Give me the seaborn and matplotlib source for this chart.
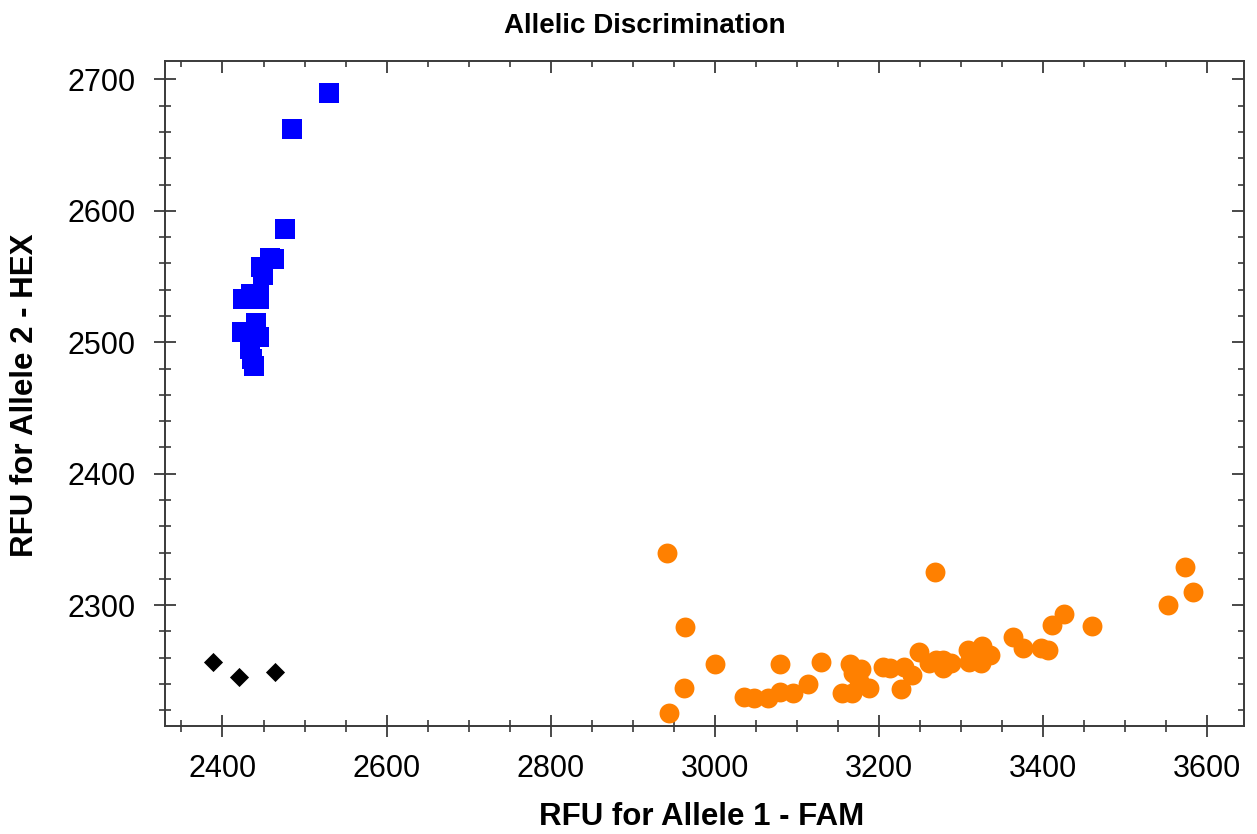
import matplotlib
matplotlib.use("Agg")
import matplotlib.pyplot as plt
from matplotlib.ticker import MultipleLocator
import seaborn as sns
import pandas as pd

# Allele 2 homozygotes (HEX)
hex_fam = [2530, 2485, 2476, 2458, 2463, 2447, 2449, 2444, 2425, 2444,
           2435, 2441, 2424, 2444, 2434, 2438, 2436]
hex_hex = [2690, 2662, 2586, 2564, 2563, 2557, 2551, 2537, 2533, 2533,
           2537, 2515, 2508, 2504, 2495, 2482, 2487]

# Allele 1 homozygotes (FAM)
fam_fam = [2942, 2964, 3000, 2962, 2944, 3035, 3048, 3065, 3080, 3080,
           3095, 3113, 3130, 3155, 3167, 3165, 3168, 3178, 3176, 3188,
           3205, 3213, 3227, 3231, 3240, 3249, 3261, 3270, 3268, 3278,
           3278, 3288, 3308, 3310, 3324, 3326, 3335, 3322, 3363, 3375,
           3397, 3406, 3411, 3425, 3460, 3552, 3573, 3583]
fam_hex = [2340, 2283, 2255, 2237, 2218, 2230, 2229, 2229, 2234, 2255,
           2233, 2240, 2257, 2233, 2233, 2255, 2248, 2251, 2242, 2237,
           2253, 2252, 2236, 2253, 2247, 2264, 2256, 2258, 2325, 2258,
           2252, 2256, 2266, 2257, 2256, 2269, 2262, 2262, 2276, 2267,
           2267, 2266, 2285, 2293, 2284, 2300, 2329, 2310]

# No template controls
ntc_fam = [2389, 2420, 2464]
ntc_hex = [2257, 2245, 2249]

sns.set_theme(style="white")
plt.rcParams["font.family"] = ["Liberation Sans", "DejaVu Sans"]
plt.rcParams["text.color"] = "black"
plt.rcParams["xtick.labelcolor"] = "black"
plt.rcParams["ytick.labelcolor"] = "black"

fig = plt.figure(figsize=(12.57, 8.34), dpi=100)
ax = fig.add_axes([0.1313, 0.1295, 0.8584, 0.7974])

hex_df = pd.DataFrame({"fam": hex_fam, "hex": hex_hex})
fam_df = pd.DataFrame({"fam": fam_fam, "hex": fam_hex})
ntc_df = pd.DataFrame({"fam": ntc_fam, "hex": ntc_hex})

sns.scatterplot(data=fam_df, x="fam", y="hex", ax=ax, marker="o",
                color="#FF8000", s=205, linewidth=0, zorder=3)
sns.scatterplot(data=hex_df, x="fam", y="hex", ax=ax, marker="s",
                color="#0000FF", s=190, linewidth=0, zorder=3)
sns.scatterplot(data=ntc_df, x="fam", y="hex", ax=ax, marker="D",
                color="black", s=95, linewidth=0, zorder=3)

ax.set_xlim(2330, 3645)
ax.set_ylim(2208, 2714)

spine_col = "#3a3a3a"
for sp in ax.spines.values():
    sp.set_color(spine_col)
    sp.set_linewidth(1.4)

ax.xaxis.set_major_locator(MultipleLocator(200))
ax.xaxis.set_minor_locator(MultipleLocator(50))
ax.yaxis.set_major_locator(MultipleLocator(100))
ax.yaxis.set_minor_locator(MultipleLocator(20))

ax.tick_params(which="major", direction="inout", length=16, width=1.3,
               color=spine_col, labelsize=22, pad=12, labelcolor="black",
               bottom=True, left=True, top=False, right=False)
ax.tick_params(which="minor", direction="inout", length=8.5, width=1.2,
               color=spine_col, bottom=True, left=True, top=False, right=False)
ax.tick_params(axis="y", which="major", pad=13)

# inward ticks on the top and right edges
top = ax.secondary_xaxis("top")
top.xaxis.set_major_locator(MultipleLocator(200))
top.xaxis.set_minor_locator(MultipleLocator(50))
top.tick_params(which="major", direction="in", length=8.5, width=1.3,
                color=spine_col, labeltop=False)
top.tick_params(which="minor", direction="in", length=4.5, width=1.2,
                color=spine_col)
top.spines["top"].set_visible(False)

right = ax.secondary_yaxis("right")
right.yaxis.set_major_locator(MultipleLocator(100))
right.yaxis.set_minor_locator(MultipleLocator(20))
right.tick_params(which="major", direction="in", length=8.5, width=1.3,
                  color=spine_col, labelright=False)
right.tick_params(which="minor", direction="in", length=4.5, width=1.2,
                  color=spine_col)
right.spines["right"].set_visible(False)

ax.set_xlabel("")
ax.set_ylabel("")
fig.text(702 / 1257, 1 - 817 / 834, "RFU for Allele 1 - FAM",
         ha="center", va="center", fontsize=22.5, fontweight="bold",
         color="black")
fig.text(25 / 1257, 1 - 395 / 834, "RFU for Allele 2 - HEX",
         ha="center", va="center", rotation=90, fontsize=22.5,
         fontweight="bold", color="black")
fig.text(645 / 1257, 1 - 26 / 834, "Allelic Discrimination",
         ha="center", va="center", fontsize=20, fontweight="bold",
         color="black")

fig.savefig("out.png", dpi=100, facecolor="white")
